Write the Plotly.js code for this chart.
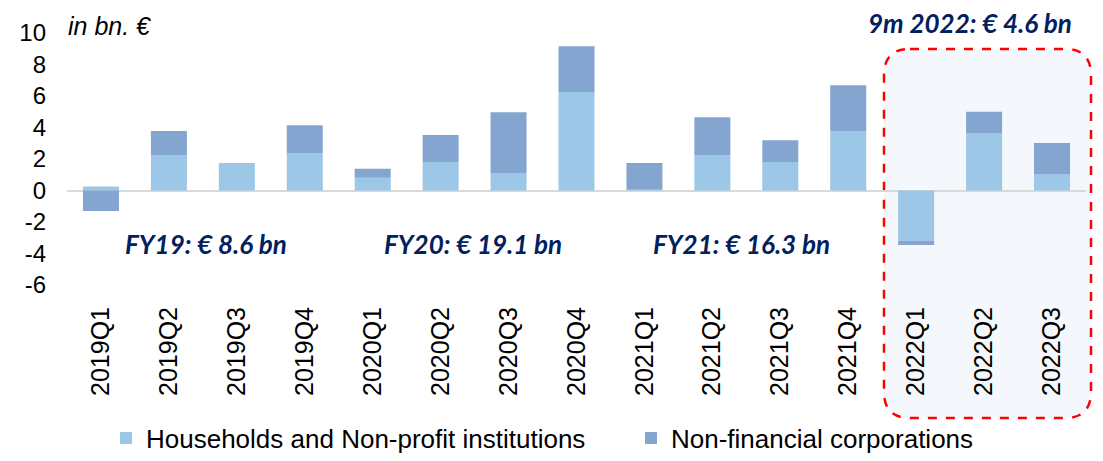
<!DOCTYPE html>
<html>
<head>
<meta charset="utf-8">
<script src="https://cdn.plot.ly/plotly-3.0.1.min.js"></script>
<style>html,body{margin:0;padding:0;background:#fff;}#chart{width:1103px;height:461px;}</style>
</head>
<body>
<div id="chart"></div>
<script>
const quarters = ["2019Q1","2019Q2","2019Q3","2019Q4","2020Q1","2020Q2","2020Q3","2020Q4","2021Q1","2021Q2","2021Q3","2021Q4","2022Q1","2022Q2","2022Q3"];
const households = [0.25, 2.25, 1.75, 2.38, 0.81, 1.81, 1.11, 6.25, 0.05, 2.25, 1.81, 3.78, -3.19, 3.65, 1.05];
const corporations = [-1.3, 1.53, 0.0, 1.76, 0.57, 1.71, 3.86, 2.91, 1.7, 2.4, 1.38, 2.9, -0.27, 1.35, 1.97];
const seriesNames = ["Households and Non-profit institutions", "Non-financial corporations"];
const yTicks = [-6, -4, -2, 0, 2, 4, 6, 8, 10];
const periodLabels = ["FY19: € 8.6 bn", "FY20: € 19.1 bn", "FY21: € 16.3 bn", "9m 2022: € 4.6 bn"];
const unitLabel = "in bn. €";

const W = 1103, H = 461;
const mL = 67, mR = 17, mT = 33, mB = 176;
const pw = W - mL - mR, ph = H - mT - mB;
const px = v => (v - mL) / pw;
const py = v => (H - mB - v) / ph;

const traces = [
  {type: 'bar', name: seriesNames[0], x: quarters, y: households, marker: {color: '#9dc7e6'}, legend: 'legend', hoverinfo: 'x+y'},
  {type: 'bar', name: seriesNames[1], x: quarters, y: corporations, marker: {color: '#84a5cf'}, legend: 'legend2', hoverinfo: 'x+y'}
];

// rounded dashed box
const bx0 = px(884), bx1 = px(1091), by0 = py(418), by1 = py(49);
const rx = 26 / pw, ry = 26 / ph;
const boxPath = `M ${bx0 + rx},${by1} L ${bx1 - rx},${by1} Q ${bx1},${by1} ${bx1},${by1 - ry} L ${bx1},${by0 + ry} Q ${bx1},${by0} ${bx1 - rx},${by0} L ${bx0 + rx},${by0} Q ${bx0},${by0} ${bx0},${by0 + ry} L ${bx0},${by1 - ry} Q ${bx0},${by1} ${bx0 + rx},${by1} Z`;

const annFont = {family: 'Lato, "Open Sans", sans-serif', size: 26, color: '#002060', weight: 'bold', style: 'italic'};
const annPos = [[206, 244], [472.5, 244], [741.6, 244], [970, 23]];

const annotations = periodLabels.map((t, i) => ({
  text: '<b><i>' + t + '</i></b>', xref: 'paper', yref: 'paper', x: px(annPos[i][0]), y: py(annPos[i][1]),
  xanchor: 'center', yanchor: 'middle', showarrow: false, font: annFont
}));
annotations.push({
  text: '<i>' + unitLabel + '</i>', xref: 'paper', yref: 'paper', x: px(66), y: py(25.5),
  xanchor: 'left', yanchor: 'middle', showarrow: false,
  font: {family: '"Liberation Sans", Arial, sans-serif', size: 25, color: '#000'}
});

const legFont = {family: '"Liberation Sans", Arial, sans-serif', size: 26, color: '#000'};

const layout = {
  width: W, height: H,
  margin: {l: mL, r: mR, t: mT, b: mB, pad: 0, autoexpand: false},
  paper_bgcolor: '#fff', plot_bgcolor: 'rgba(0,0,0,0)',
  barmode: 'relative', bargap: 0.47,
  font: {family: '"Liberation Sans", Arial, sans-serif', color: '#000'},
  xaxis: {
    type: 'category', tickangle: -90, showgrid: false, zeroline: false, showline: false, automargin: false,
    ticks: '', tickfont: {size: 25, color: '#000'}, ticklabelstandoff: 16, fixedrange: true
  },
  yaxis: {
    range: [-6, 10], tickvals: yTicks, ticktext: yTicks.map(String), showgrid: false, automargin: false,
    zeroline: true, zerolinecolor: '#d9d9d9', zerolinewidth: 2, showline: false, ticks: '',
    tickfont: {size: 24, color: '#000'}, ticklabelstandoff: 20, fixedrange: true
  },
  showlegend: true,
  legend: {orientation: 'h', x: px(106), xanchor: 'left', y: py(438), yanchor: 'middle', font: legFont, bgcolor: 'rgba(0,0,0,0)', itemclick: false},
  legend2: {orientation: 'h', x: px(631), xanchor: 'left', y: py(438), yanchor: 'middle', font: legFont, bgcolor: 'rgba(0,0,0,0)', itemclick: false},
  shapes: [{
    type: 'path', xref: 'paper', yref: 'paper', path: boxPath, layer: 'below',
    fillcolor: '#f4f8fc', line: {color: '#ff0000', width: 2.5, dash: 'dash'}
  }],
  annotations: annotations
};

Plotly.newPlot('chart', traces, layout, {displayModeBar: false, staticPlot: true});
</script>
</body>
</html>
